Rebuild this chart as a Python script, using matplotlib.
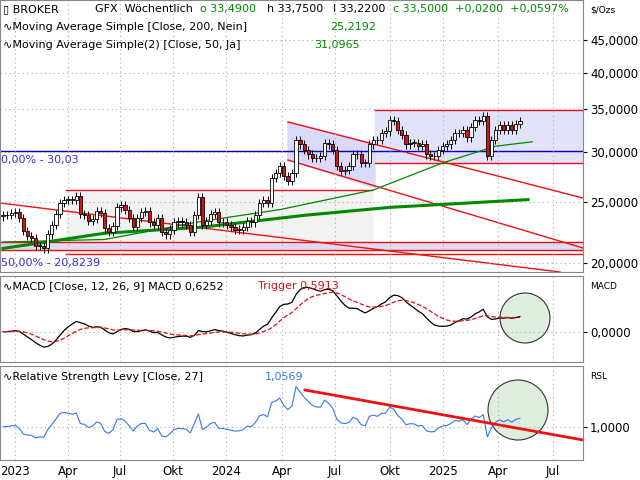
import numpy as np, pandas as pd, matplotlib
matplotlib.use("Agg")
import matplotlib.pyplot as plt
from matplotlib.patches import Rectangle, Polygon, Ellipse

closes = [23.8,23.8,24.0,24.1,23.6,22.5,22.1,21.9,21.3,21.3,
          21.1,22.2,23.0,23.9,24.9,25.2,25.2,25.2,25.5,23.9,
          23.8,23.3,23.5,24.2,24.0,22.7,22.4,22.9,24.5,24.7,
          24.3,23.6,22.8,23.6,24.1,24.2,23.2,23.0,23.6,22.4,
          22.2,22.6,23.2,23.3,23.2,23.0,22.4,23.8,25.4,23.0,
          23.3,23.9,24.1,23.2,23.2,23.0,22.8,22.6,22.6,22.8,
          23.3,23.2,23.8,24.9,25.2,24.9,27.3,
          27.8,28.5,27.5,27.0,27.8,31.3,30.8,30.2,29.7,29.3,
          29.3,29.5,31.0,30.8,30.2,28.5,28.0,28.1,28.5,29.7,
          29.7,28.8,28.8,30.8,31.3,31.3,32.1,32.3,33.7,33.5,
          32.5,31.9,30.8,31.0,31.0,30.6,30.8,29.7,29.5,29.5,
          30.2,30.6,30.8,31.3,32.1,32.1,32.5,31.6,32.8,33.7,
          33.5,34.2,29.5,31.3,32.5,33.0,32.5,33.0,32.5,33.2,33.5]
first_open = 23.7
sma200_w = [0, 25, 49, 74, 95, 129]
sma200_v = [21.1, 22.3, 22.8, 23.8, 24.5, 25.2]
sma50_w = [0, 25, 49, 68, 91, 108, 121, 130]
sma50_v = [21.6, 21.8, 23.3, 24.3, 26.1, 28.8, 30.6, 31.1]
xtick_labels = ["2023","Apr","Jul","Okt","2024","Apr","Jul","Okt","2025","Apr","Jul"]
xtick_px = [15,68,120,173,226,282,335,390,443,498,553]
price_ticks = [20,25,30,35,40,45]

def w(px): return (px-3)/4.07
def p(y): return np.exp((1087-y)/275)

c = np.array(closes); n = len(c); x = np.arange(n)
o = np.r_[first_open, c[:-1]]
hi = np.maximum(o, c)*1.015; lo = np.minimum(o, c)*0.985
s = pd.Series(c)
macd = s.ewm(span=12, adjust=False).mean()-s.ewm(span=26, adjust=False).mean()
trig = macd.ewm(span=9, adjust=False).mean()
rsl = s/s.rolling(27, min_periods=1).mean()

fig = plt.figure(figsize=(6.4,4.8), dpi=100)
W = 583/640
ax = fig.add_axes([0, 1-272/480, W, 272/480])
am = fig.add_axes([0, 1-362/480, W, 86/480], sharex=ax)
ar = fig.add_axes([0, 1-460/480, W, 94/480], sharex=ax)
for a in (ax, am, ar):
    a.set_xlim(w(0), w(583))
    a.yaxis.tick_right()
    a.tick_params(axis='y', length=3, labelsize=8.5, pad=2)
    a.tick_params(axis='x', length=0)
    for sp in a.spines.values(): sp.set_color('#888888')
    a.set_xticks([w(v) for v in xtick_px])
    a.grid(True, color='#aaaaaa', linestyle=(0,(1,3)), linewidth=0.8)
ax.set_yscale('log'); ax.set_ylim(p(272), p(0))
ax.set_yticks(price_ticks); ax.set_yticklabels([f"{v},0000" for v in price_ticks])
ax.minorticks_off()
ax.tick_params(labelbottom=False); am.tick_params(labelbottom=False)
ar.set_xticklabels(xtick_labels, fontsize=8.5)

ax.add_patch(Rectangle((w(66), p(255)), w(372)-w(66), p(190)-p(255), color='#f2f2f2', zorder=0))
ax.add_patch(Rectangle((w(0), p(250)), w(583)-w(0), p(242)-p(250), color='#dcdcf4', zorder=0))
ax.add_patch(Rectangle((w(375), p(163)), w(583)-w(375), p(110)-p(163), color='#e2e2fa', zorder=0))
ax.add_patch(Polygon([(w(288),p(122)),(w(375),p(144)),(w(375),p(188)),(w(288),p(160))], color='#dadaf8', zorder=0))
red = '#ee1111'
for (x0,y0,x1,y1) in [(66,190,372,190),(0,242,583,242),(0,250,583,250),(66,254,583,254),
                      (375,110,583,110),(375,163,583,163),(288,122,583,198),(288,160,583,248),(0,203,560,272)]:
    ax.plot([w(x0),w(x1)],[p(y0),p(y1)], color=red, lw=1, zorder=1)
ax.axhline(p(151), color='#0000cc', lw=1, zorder=1)
ax.text(w(1), p(151)*0.985, "0,00% - 30,03", color='#3333cc', fontsize=8, va='top')
ax.text(w(1), p(263), "50,00% - 20,8239", color='#3333cc', fontsize=8, va='center')
ax.plot(sma200_w, sma200_v, color='#008800', lw=2.2, zorder=2)
ax.plot(sma50_w, sma50_v, color='#008800', lw=0.9, zorder=2)
for i in range(n):
    up = c[i] >= o[i]
    ax.vlines(x[i], lo[i], hi[i], color='black', lw=0.7, zorder=3)
    b0, b1 = min(o[i],c[i]), max(o[i],c[i])
    ax.add_patch(Rectangle((x[i]-0.4, b0), 0.8, max(b1-b0, 0.05), facecolor='white' if up else '#dd1111',
                           edgecolor='black', lw=0.6, zorder=4))
fs = 8
fig.text(590/640, 1-5/480, "$/Ozs", fontsize=6.5, va='top')
def hdr(px, y, t, col='black'):
    fig.text(px/640, 1-y/480, t, fontsize=fs, va='top', color=col)
hdr(3, 4, "▯ BROKER"); hdr(95, 4, "GFX  Wöchentlich")
hdr(200, 4, "o 33,4900", '#008800'); hdr(267, 4, "h 33,7500"); hdr(333, 4, "l 33,2200")
hdr(393, 4, "c 33,5000  +0,0200  +0,0597%", '#008800')
hdr(3, 22, "∿Moving Average Simple [Close, 200, Nein]"); hdr(330, 22, "25,2192", '#008800')
hdr(3, 40, "∿Moving Average Simple(2) [Close, 50, Ja]"); hdr(314, 40, "31,0965", '#008800')

am.plot(x, macd, color='black', lw=0.9)
am.plot(x, trig, color='#dd1111', lw=0.9, ls='--')
m0, m1 = -1.2, 2.2
am.set_ylim(m0, m1); am.set_yticks([0]); am.set_yticklabels(["0,0000"])
def my(y): return m1-(y-276)/86*(m1-m0)
am.add_artist(Ellipse((w(525), my(318)), 50/4.07, 50/86*(m1-m0), facecolor='#d8ecd8', edgecolor='black', lw=0.8, alpha=0.8, zorder=0))
hdr(3, 281, "∿MACD [Close, 12, 26, 9] MACD 0,6252"); hdr(258, 281, "Trigger 0,5913", '#dd1111')
fig.text(590/640, 1-282/480, "MACD", fontsize=6.5, va='top')

r0, r1 = 0.78, 1.40
ar.plot(x, rsl, color='#3377ee', lw=0.8)
ar.set_ylim(r0, r1); ar.set_yticks([1.0]); ar.set_yticklabels(["1,0000"])
def ry(y): return r1-(y-366)/94*(r1-r0)
ar.plot([w(305), w(583)], [ry(390), ry(440)], color=red, lw=2)
ar.add_artist(Ellipse((w(518), ry(410)), 60/4.07, 60/94*(r1-r0), facecolor='#d8ecd8', edgecolor='black', lw=0.8, alpha=0.8, zorder=0))
hdr(3, 372, "∿Relative Strength Levy [Close, 27]"); hdr(265, 372, "1,0569", '#3377ee')
fig.text(590/640, 1-372/480, "RSL", fontsize=6.5, va='top')
fig.savefig("out.png", dpi=100)
